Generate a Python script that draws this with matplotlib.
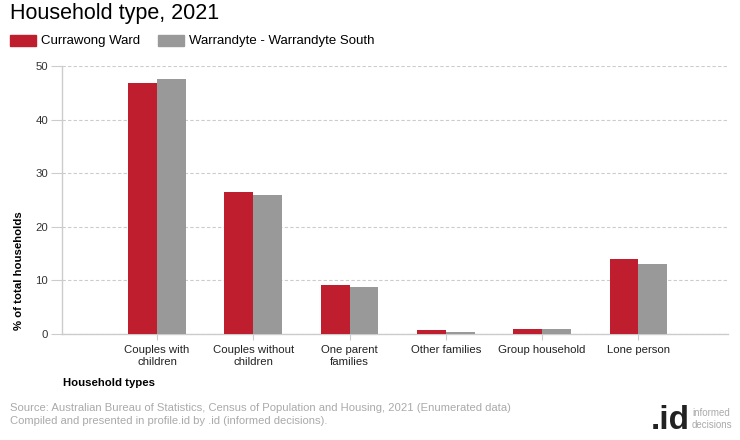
import matplotlib
matplotlib.use("Agg")
import matplotlib.pyplot as plt
from matplotlib.patches import Rectangle
import numpy as np

categories = ["Couples with\nchildren", "Couples without\nchildren", "One parent\nfamilies",
              "Other families", "Group household", "Lone person"]
currawong = [46.8, 26.5, 9.2, 0.8, 1.0, 14.0]
warrandyte = [47.6, 26.0, 8.8, 0.4, 1.0, 13.1]
series_names = ["Currawong Ward", "Warrandyte - Warrandyte South"]
yticks = [0, 10, 20, 30, 40, 50]

plt.rcParams['font.family'] = ['Liberation Sans', 'DejaVu Sans']

RED = "#BE1E2D"
GRAY = "#999999"

fig = plt.figure(figsize=(7.4, 4.4), dpi=100)
ax = fig.add_axes([62/740, 1-334/440, (728-62)/740, (334-66)/440])

x = np.arange(len(categories))
w = 0.3
ax.bar(x - w/2, currawong, width=w, color=RED, label=series_names[0], zorder=3)
ax.bar(x + w/2, warrandyte, width=w, color=GRAY, label=series_names[1], zorder=3)

ax.set_ylim(0, 50)
ax.set_xlim(-0.987, 5.93)
ax.set_yticks(yticks)
ax.set_yticklabels([str(t) for t in yticks], fontsize=8.2, color="#333333")
ax.set_xticks(x)
ax.set_xticklabels(categories, fontsize=8.2, color="#222222", linespacing=1.2)
ax.yaxis.grid(True, linestyle=(0, (3, 2)), color="#cccccc", linewidth=0.8, zorder=0)
for s in ["top", "right"]:
    ax.spines[s].set_visible(False)
for s in ["left", "bottom"]:
    ax.spines[s].set_color("#cccccc")
    ax.spines[s].set_linewidth(1)
ax.tick_params(axis="y", length=8, color="#cccccc", pad=2)
ax.tick_params(axis="x", length=4, color="#cccccc", pad=4)

fig.text(19/740, 1-271/440, "% of total households", fontsize=8.2, fontweight="bold",
         rotation=90, va="center", ha="center")

fig.text(10/740, 1-14/440, "Household type, 2021", fontsize=15.5, va="center", ha="left", color="#000000")

# legend
fig.patches.append(Rectangle((10/740, 1-46/440), 26/740, 11/440, transform=fig.transFigure, color=RED))
fig.text(41/740, 1-41/440, series_names[0], fontsize=9.5, va="center", ha="left")
fig.patches.append(Rectangle((158/740, 1-46/440), 26/740, 11/440, transform=fig.transFigure, color=GRAY))
fig.text(189/740, 1-41/440, series_names[1], fontsize=9.5, va="center", ha="left")

fig.text(63/740, 1-383/440, "Household types", fontsize=8.2, fontweight="bold", va="center", ha="left")
fig.text(10/740, 1-408/440, "Source: Australian Bureau of Statistics, Census of Population and Housing, 2021 (Enumerated data)",
         fontsize=8.15, color="#aaaaaa", va="center", ha="left")
fig.text(10/740, 1-421/440, "Compiled and presented in profile.id by .id (informed decisions).",
         fontsize=8.15, color="#aaaaaa", va="center", ha="left")

fig.text(690/740, 1-420/440, ".id", fontsize=24, fontweight="bold", color="#222222", va="center", ha="right")
fig.text(692/740, 1-413/440, "informed", fontsize=7, color="#aaaaaa", va="center", ha="left")
fig.text(692/740, 1-425/440, "decisions", fontsize=7, color="#aaaaaa", va="center", ha="left")

fig.savefig("out.png", dpi=100)
